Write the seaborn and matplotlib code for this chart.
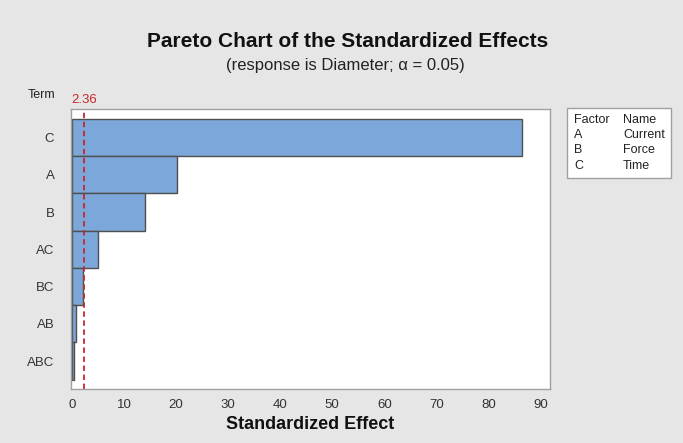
import matplotlib
matplotlib.use("Agg")
import matplotlib.pyplot as plt
import seaborn as sns
import pandas as pd
from matplotlib.patches import Rectangle

# values
terms = ["C", "A", "B", "AC", "BC", "AB", "ABC"]
effects = [86.4, 20.1, 14.0, 5.0, 2.05, 0.7, 0.3]
factors = ["A", "B", "C"]
factor_names = ["Current", "Force", "Time"]
crit = 2.36
xticks = [0, 10, 20, 30, 40, 50, 60, 70, 80, 90]

df = pd.DataFrame({"Term": terms, "Effect": effects})

sns.set_style("white")
plt.rcParams["font.family"] = ["Liberation Sans", "DejaVu Sans"]

bg = "#e6e6e6"
fig = plt.figure(figsize=(6.83, 4.43), dpi=100, facecolor=bg)
ax = fig.add_axes([0.104, 0.122, 0.701, 0.632])

sns.barplot(data=df, x="Effect", y="Term", orient="h", color="#7ba7da",
            saturation=1, edgecolor="#505050", linewidth=1.0, width=1.0, ax=ax)

ax.axvline(crit, color="#c8262c", linestyle=(0, (3, 2)), linewidth=1.3)
ax.set_xlim(-0.2, 91.8)
ax.set_ylim(6.75, -0.77)
ax.set_xticks(xticks)
ax.set_xlabel("Standardized Effect", fontsize=13, fontweight="bold", color="#111111",
              labelpad=3)
ax.set_ylabel("")
ax.tick_params(axis="both", which="both", direction="out", length=4, width=0.8,
               color="#888888", labelcolor="#333333", labelsize=9.5)
ax.tick_params(axis="y", pad=8)
for s in ax.spines.values():
    s.set_color("#a0a0a0")
    s.set_linewidth(1.0)
ax.set_facecolor("white")

# critical value label above the plot
ax.text(crit, 1.01, "2.36", transform=ax.get_xaxis_transform(), color="#c8262c",
        fontsize=9.5, ha="center", va="bottom")
fig.text(0.041, 1 - 95 / 443, "Term", fontsize=9, color="#222222", ha="left", va="center")

fig.text(0.509, 0.895, "Pareto Chart of the Standardized Effects", ha="center",
         fontsize=15, fontweight="bold", color="#111111")
fig.text(0.505, 0.843, "(response is Diameter; \u03b1 = 0.05)", ha="center",
         fontsize=12, color="#222222")

# factor table at right
fig.add_artist(Rectangle((567 / 683, 1 - 178 / 443), 104 / 683, 70 / 443,
                         transform=fig.transFigure, facecolor="white",
                         edgecolor="#a0a0a0", linewidth=1.0))
ys = [120, 135, 150, 166]
fig.text(574 / 683, 1 - ys[0] / 443, "Factor", fontsize=9, va="center", color="#222222")
fig.text(623 / 683, 1 - ys[0] / 443, "Name", fontsize=9, va="center", color="#222222")
for f, n, y in zip(factors, factor_names, ys[1:]):
    fig.text(574 / 683, 1 - y / 443, f, fontsize=9, va="center", color="#222222")
    fig.text(623 / 683, 1 - y / 443, n, fontsize=9, va="center", color="#222222")

fig.savefig("out.png", dpi=100, facecolor=bg)
